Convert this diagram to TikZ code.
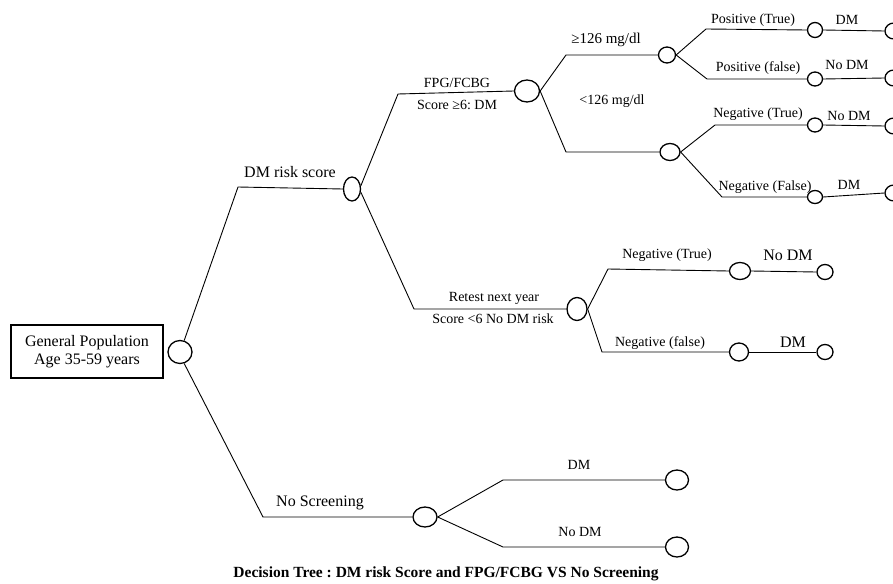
\documentclass[tikz,border=0pt]{standalone}
\usepackage{fontspec}
\setmainfont{Liberation Serif}
\usetikzlibrary{shapes.geometric}
\tikzset{
  chance/.style={draw, ellipse, line width=1.3pt, inner sep=0pt, fill=white},
  branch/.style={line width=0.9pt},
  big/.style={font=\fontsize{16}{18}\selectfont, inner sep=0pt},
  small/.style={font=\fontsize{14}{16}\selectfont, inner sep=0pt},
}
\frenchspacing
\begin{document}
\begin{tikzpicture}[x=1pt,y=-1pt]
\useasboundingbox (0,0) rectangle (893,583);
% root
\node[draw, line width=1.3pt, minimum width=152pt, minimum height=53pt, align=center, font=\fontsize{16}{18}\selectfont] (root) at (87,351.5) {General Population\\Age 35-59 years};
\node[chance, minimum width=24pt, minimum height=23pt] (c0) at (180,352) {};
% first level
\node[chance, minimum width=17pt, minimum height=24pt] (dmr) at (352,189) {};
\node[chance, minimum width=24pt, minimum height=20pt] (ns) at (425,517) {};
% FPG branch
\node[chance, minimum width=25pt, minimum height=22pt] (fpg) at (527,91) {};
\node[chance, minimum width=17pt, minimum height=16pt] (hi) at (667,55) {};
\node[chance, minimum width=20pt, minimum height=17pt] (lo) at (670,152) {};
\node[chance, minimum width=15pt, minimum height=15pt] (pt) at (815,30) {};
\node[chance, minimum width=15pt, minimum height=14pt] (pf) at (815,79) {};
\node[chance, minimum width=15pt, minimum height=14pt] (nt) at (815,125) {};
\node[chance, minimum width=15pt, minimum height=13pt] (nf) at (815,197) {};
\node[chance, minimum width=18pt, minimum height=16pt] (e1) at (894,31) {};
\node[chance, minimum width=18pt, minimum height=16pt] (e2) at (894,78) {};
\node[chance, minimum width=18pt, minimum height=16pt] (e3) at (894,126) {};
\node[chance, minimum width=18pt, minimum height=16pt] (e4) at (894,193) {};
% Retest branch
\node[chance, minimum width=20pt, minimum height=23pt] (ret) at (577,309) {};
\node[chance, minimum width=21pt, minimum height=17pt] (rnt) at (740,271) {};
\node[chance, minimum width=19pt, minimum height=18pt] (rnf) at (739,352) {};
\node[chance, minimum width=16pt, minimum height=15pt] (re1) at (825,272) {};
\node[chance, minimum width=16pt, minimum height=15pt] (re2) at (825,352) {};
% No screening branch
\node[chance, minimum width=23pt, minimum height=20pt] (nsd) at (677,480) {};
\node[chance, minimum width=23pt, minimum height=20pt] (nsn) at (677,547) {};
% corners
\coordinate (k1) at (238,187);
\coordinate (k2) at (263,517);
\coordinate (ku) at (398,94);
\coordinate (kd) at (414,309);
\coordinate (fu) at (566,55);
\coordinate (fd) at (566,152);
\coordinate (hu) at (706,29);
\coordinate (hd) at (707,79);
\coordinate (lu) at (715,125);
\coordinate (ld) at (722,197);
\coordinate (ru) at (608,269);
\coordinate (rd) at (602,352);
\coordinate (nu) at (503,480);
\coordinate (nd) at (503,547);
% connectors
\begin{scope}[branch]
\draw (c0.70) -- (k1) -- (dmr.west);
\draw (c0.-70) -- (k2) -- (ns.west);
\draw (dmr.20) -- (ku) -- (fpg.west);
\draw (dmr.-20) -- (kd) -- (ret.west);
\draw (fpg.east) -- (fu) -- (hi.west);
\draw (fpg.east) -- (fd) -- (lo.west);
\draw (hi.east) -- (hu) -- (pt.west);
\draw (hi.east) -- (hd) -- (pf.west);
\draw (lo.east) -- (lu) -- (nt.west);
\draw (lo.east) -- (ld) -- (nf.west);
\draw (pt.east) -- (e1.west);
\draw (pf.east) -- (e2.west);
\draw (nt.east) -- (e3.west);
\draw (nf.east) -- (e4.west);
\draw (ret.east) -- (ru) -- (rnt.west);
\draw (ret.east) -- (rd) -- (rnf.west);
\draw (rnt.east) -- (re1.west);
\draw (rnf.east) -- (re2.west);
\draw (ns.east) -- (nu) -- (nsd.west);
\draw (ns.east) -- (nd) -- (nsn.west);
\end{scope}
% labels
\node[big] (l1) at (290,172) {DM risk score};
\node[big] (l2) at (320,503) {No Screening};
\node[small] (l3) at (457,83) {FPG/FCBG};
\node[small] (l4) at (457,105) {Score ≥6: DM};
\node[font=\fontsize{15}{17}\selectfont, inner sep=0pt] (l5) at (606,40) {≥126 mg/dl};
\node[small] (l6) at (612,101) {<126 mg/dl};
\node[small] (l7) at (753,20) {Positive (True)};
\node[small] (l8) at (847,20) {DM};
\node[small] (l9) at (758,68) {Positive (false)};
\node[small] (l10) at (847,65) {No DM};
\node[small] (l11) at (758,114) {Negative (True)};
\node[small] (l12) at (849,116) {No DM};
\node[small] (l13) at (765,187) {Negative (False)};
\node[small] (l14) at (849,185) {DM};
\node[small] (l15) at (494,298) {Retest next year};
\node[small] (l16) at (493,319) {Score <6 No DM risk};
\node[small] (l17) at (667,255) {Negative (True)};
\node[big] (l18) at (788,255) {No DM};
\node[small] (l19) at (660,343) {Negative (false)};
\node[big] (l20) at (793,342) {DM};
\node[small] (l21) at (579,465) {DM};
\node[small] (l22) at (580,532) {No DM};
\node[font=\fontsize{15.5}{17}\selectfont\bfseries, inner sep=0pt] (cap) at (446,574) {Decision Tree : DM risk Score and FPG/FCBG VS No Screening};
\end{tikzpicture}
\end{document}
